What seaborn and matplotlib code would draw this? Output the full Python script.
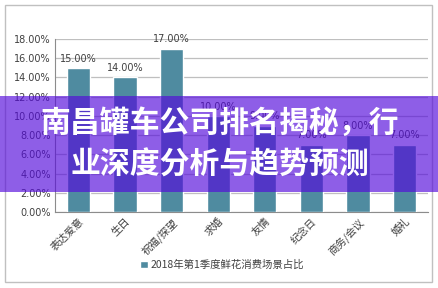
import matplotlib
matplotlib.use("Agg")
import matplotlib.pyplot as plt
import seaborn as sns
import pandas as pd
from matplotlib.patches import Rectangle

categories = ["表达爱意", "生日", "祝福/探望", "求婚", "友情", "纪念日", "商务/会议", "婚礼"]
values = [15.0, 14.0, 17.0, 10.0, 9.0, 7.0, 8.0, 7.0]
series_name = "2018年第1季度鲜花消费场景占比"
yticks = [0, 2, 4, 6, 8, 10, 12, 14, 16, 18]
title_lines = ["南昌罐车公司排名揭秘，行", "业深度分析与趋势预测"]

sns.set_theme(style="white")
plt.rcParams['font.family'] = ['Noto Sans CJK SC', 'DejaVu Sans']

W, H = 439, 288
fig = plt.figure(figsize=(W / 100, H / 100), dpi=100)
ax = fig.add_axes([55 / W, 1 - 212 / H, (428 - 55) / W, (212 - 39) / H])

df = pd.DataFrame({"cat": categories, "val": values})
bar_color = "#4F8BA0"
sns.barplot(data=df, x="cat", y="val", color=bar_color, width=0.5, ax=ax,
            saturation=1, zorder=3, label=series_name)

ax.set_ylim(0, 18)
ax.set_yticks(yticks)
ax.set_yticklabels([f"{v:.2f}%" for v in yticks], fontsize=7, color="#404040",
                   family=['DejaVu Sans'])
ax.set_xlim(-0.5, len(categories) - 0.5)
ax.set_xlabel("")
ax.set_ylabel("")
ax.yaxis.grid(True, color="#bfbfbf", linewidth=0.9, zorder=0)
ax.set_axisbelow(True)
for s in ["top", "right"]:
    ax.spines[s].set_visible(False)
for s in ["left", "bottom"]:
    ax.spines[s].set_color("#8c8c8c")
    ax.spines[s].set_linewidth(0.8)
ax.tick_params(axis="both", length=0, pad=3)
ax.set_xticks(range(len(categories)))
ax.set_xticklabels(categories, rotation=45, ha="right", rotation_mode="anchor",
                   fontsize=7.5, color="#404040")

for i, v in enumerate(values):
    ax.text(i, v + 0.45, f"{v:.2f}%", ha="center", va="bottom", fontsize=7,
            color="#404040", family=['DejaVu Sans'], zorder=4)

if ax.get_legend() is not None:
    ax.get_legend().remove()
handles, labels = ax.get_legend_handles_labels()
fig.legend(handles[:1], [series_name], loc="center", bbox_to_anchor=(222 / W, 1 - 265 / H),
           frameon=False, fontsize=7.5, handlelength=0.8, handleheight=0.8,
           handletextpad=0.2, labelcolor="#404040")

# outer chart border
fig.patches.append(Rectangle((5 / W, 1 - 282 / H), (432 - 5) / W, (282 - 5) / H,
                             transform=fig.transFigure, fill=False,
                             edgecolor="#c0c0c0", linewidth=1.0, zorder=1))

# purple banner
fig.patches.append(Rectangle((0, 1 - 192 / H), 1, 96 / H, transform=fig.transFigure,
                             facecolor=(0.33, 0.04, 0.86), alpha=0.66,
                             edgecolor="none", zorder=10))
for line, yc in zip(title_lines, [123, 165]):
    fig.text(220 / W, 1 - yc / H, line, ha="center", va="center", fontsize=21.5,
             fontweight="heavy", color="white", zorder=11,
             family=['Noto Sans CJK SC', 'DejaVu Sans'])

fig.savefig("out.png", dpi=100)
